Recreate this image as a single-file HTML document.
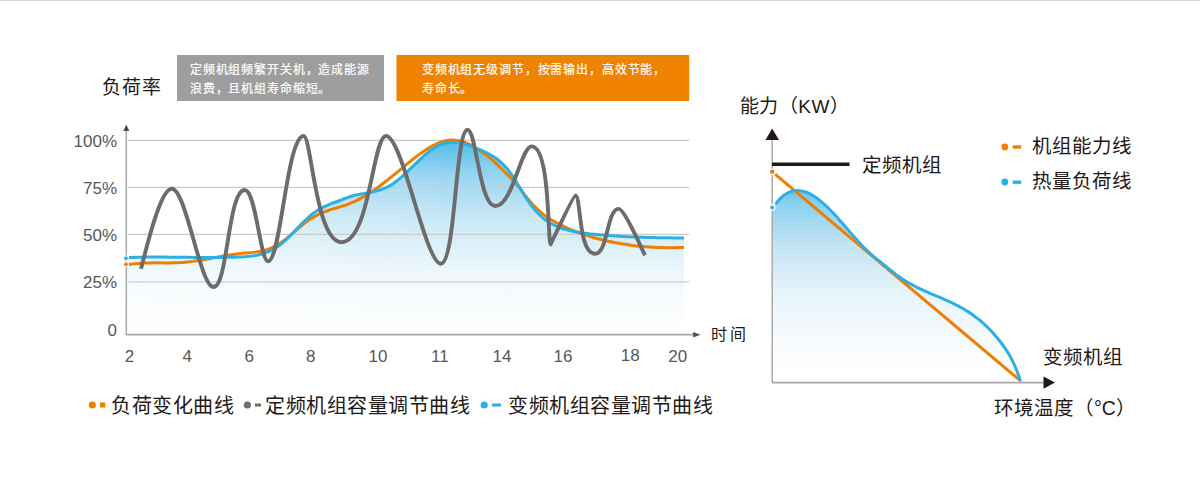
<!DOCTYPE html>
<html lang="zh-CN"><head><meta charset="utf-8">
<style>
html,body{margin:0;padding:0;background:#fff;}
body{width:1200px;height:480px;overflow:hidden;position:relative;font-family:"Liberation Sans",sans-serif;}
svg{position:absolute;left:0;top:0;}
.t{font-family:"Liberation Sans",sans-serif;}
</style></head><body>
<svg width="1200" height="480" viewBox="0 0 1200 480">
<defs>
<linearGradient id="g1" x1="0" y1="140" x2="0" y2="335" gradientUnits="userSpaceOnUse">
<stop offset="0" stop-color="#52bbe9"/>
<stop offset="0.046" stop-color="#62c2ec"/>
<stop offset="0.144" stop-color="#8bd0ef"/>
<stop offset="0.215" stop-color="#a3d8f2"/>
<stop offset="0.395" stop-color="#c8e8f6"/>
<stop offset="0.6" stop-color="#e4f3fa"/>
<stop offset="0.687" stop-color="#eff7fc"/>
<stop offset="0.805" stop-color="#f7fbfd"/>
<stop offset="0.944" stop-color="#fdfefe"/>
<stop offset="1" stop-color="#ffffff"/>
</linearGradient>
<linearGradient id="g1h" x1="126" y1="0" x2="450" y2="0" gradientUnits="userSpaceOnUse">
<stop offset="0" stop-color="#fff" stop-opacity="0.3"/>
<stop offset="1" stop-color="#fff" stop-opacity="0"/>
</linearGradient>
<linearGradient id="g2" x1="0" y1="190" x2="0" y2="382" gradientUnits="userSpaceOnUse">
<stop offset="0" stop-color="#6cc6ea"/>
<stop offset="0.042" stop-color="#7ccdec"/>
<stop offset="0.078" stop-color="#8cd2ef"/>
<stop offset="0.286" stop-color="#c2e4f5"/>
<stop offset="0.547" stop-color="#e8f4fb"/>
<stop offset="0.807" stop-color="#f8fbfd"/>
<stop offset="0.958" stop-color="#ffffff"/>
<stop offset="1" stop-color="#ffffff"/>
</linearGradient>
</defs>
<rect x="0" y="0" width="1200" height="1" fill="#d3d7e0"/>
<!-- left chart -->
<path d="M129.00,257.55 C130.33,257.50 131.67,257.45 133.00,257.41 C134.33,257.36 135.67,257.32 137.00,257.29 C138.33,257.26 139.67,257.23 141.00,257.20 C142.33,257.18 143.67,257.15 145.00,257.14 C146.33,257.12 147.67,257.10 149.00,257.09 C150.33,257.08 151.67,257.08 153.00,257.07 C154.33,257.07 155.67,257.06 157.00,257.06 C158.33,257.07 159.67,257.07 161.00,257.07 C162.33,257.08 163.67,257.09 165.00,257.10 C166.33,257.11 167.67,257.12 169.00,257.13 C170.33,257.14 171.67,257.16 173.00,257.17 C174.33,257.19 175.67,257.20 177.00,257.22 C178.33,257.23 179.67,257.25 181.00,257.27 C182.33,257.28 183.67,257.30 185.00,257.32 C186.33,257.34 187.67,257.35 189.00,257.37 C190.33,257.39 191.67,257.40 193.00,257.42 C194.33,257.43 195.67,257.45 197.00,257.46 C198.33,257.47 199.67,257.48 201.00,257.49 C202.33,257.50 203.67,257.51 205.00,257.52 C206.33,257.52 207.67,257.53 209.00,257.53 C210.33,257.53 211.67,257.53 213.00,257.52 C214.33,257.52 215.67,257.51 217.00,257.50 C218.33,257.49 219.67,257.48 221.00,257.46 C222.33,257.45 223.67,257.43 225.00,257.40 C226.33,257.38 227.67,257.35 229.00,257.31 C230.33,257.28 231.67,257.24 233.00,257.20 C234.33,257.16 235.67,257.11 237.00,257.06 C238.33,257.01 239.67,256.95 241.00,256.89 C242.33,256.82 243.67,256.75 245.00,256.66 C246.33,256.57 247.67,256.47 249.00,256.34 C250.34,256.21 251.67,256.06 253.00,255.88 C254.34,255.69 255.67,255.47 257.00,255.21 C258.34,254.94 259.68,254.64 261.00,254.29 C262.35,253.93 263.69,253.53 265.00,253.07 C266.35,252.60 267.69,252.08 269.00,251.49 C270.36,250.89 271.70,250.23 273.00,249.51 C274.37,248.76 275.71,247.95 277.00,247.08 C278.37,246.15 279.71,245.17 281.00,244.13 C282.37,243.04 283.70,241.87 285.00,240.69 C286.36,239.45 287.69,238.16 289.00,236.87 C290.35,235.53 291.68,234.16 293.00,232.80 C294.34,231.42 295.66,230.01 297.00,228.62 C298.33,227.24 299.65,225.84 301.00,224.47 C302.32,223.13 303.64,221.78 305.00,220.48 C306.31,219.22 307.63,217.97 309.00,216.78 C310.30,215.64 311.63,214.54 313.00,213.50 C314.29,212.52 315.63,211.60 317.00,210.72 C318.30,209.89 319.64,209.11 321.00,208.36 C322.31,207.65 323.65,206.99 325.00,206.35 C326.32,205.73 327.66,205.15 329.00,204.59 C330.32,204.04 331.66,203.52 333.00,203.01 C334.33,202.50 335.67,202.01 337.00,201.52 C338.33,201.02 339.67,200.54 341.00,200.04 C342.34,199.53 343.66,199.00 345.00,198.50 C346.33,198.00 347.65,197.48 349.00,197.03 C350.32,196.58 351.66,196.17 353.00,195.80 C354.32,195.44 355.66,195.13 357.00,194.84 C358.33,194.55 359.66,194.30 361.00,194.05 C362.33,193.80 363.67,193.58 365.00,193.34 C366.33,193.11 367.67,192.88 369.00,192.64 C370.34,192.39 371.67,192.14 373.00,191.85 C374.34,191.56 375.68,191.25 377.00,190.89 C378.34,190.53 379.68,190.13 381.00,189.68 C382.35,189.21 383.69,188.70 385.00,188.12 C386.36,187.52 387.70,186.87 389.00,186.14 C390.37,185.38 391.70,184.54 393.00,183.66 C394.37,182.73 395.70,181.73 397.00,180.71 C398.36,179.64 399.69,178.53 401.00,177.39 C402.36,176.22 403.68,175.02 405.00,173.80 C406.35,172.56 407.67,171.29 409.00,170.02 C410.34,168.74 411.67,167.45 413.00,166.16 C414.33,164.87 415.66,163.57 417.00,162.30 C418.33,161.03 419.65,159.77 421.00,158.53 C422.32,157.32 423.64,156.12 425.00,154.96 C426.31,153.84 427.64,152.73 429.00,151.67 C430.30,150.66 431.63,149.68 433.00,148.76 C434.30,147.90 435.63,147.07 437.00,146.33 C438.29,145.63 439.63,144.99 441.00,144.46 C442.30,143.95 443.65,143.53 445.00,143.20 C446.31,142.88 447.66,142.65 449.00,142.51 C450.32,142.36 451.67,142.30 453.00,142.32 C454.33,142.33 455.67,142.42 457.00,142.57 C458.34,142.72 459.68,142.95 461.00,143.22 C462.34,143.49 463.68,143.83 465.00,144.19 C466.34,144.56 467.68,144.99 469.00,145.44 C470.34,145.89 471.68,146.39 473.00,146.89 C474.34,147.41 475.67,147.95 477.00,148.51 C478.34,149.06 479.67,149.63 481.00,150.21 C482.34,150.80 483.68,151.38 485.00,152.01 C486.35,152.65 487.69,153.30 489.00,154.01 C490.36,154.74 491.70,155.50 493.00,156.32 C494.37,157.19 495.71,158.10 497.00,159.07 C498.38,160.11 499.72,161.21 501.00,162.37 C502.39,163.63 503.73,164.95 505.00,166.33 C506.40,167.85 507.74,169.44 509.00,171.08 C510.40,172.90 511.72,174.79 513.00,176.70 C514.38,178.76 515.69,180.87 517.00,182.98 C518.36,185.16 519.66,187.38 521.00,189.57 C522.33,191.75 523.64,193.95 525.00,196.12 C526.30,198.18 527.61,200.25 529.00,202.26 C530.28,204.10 531.60,205.92 533.00,207.67 C534.27,209.27 535.61,210.81 537.00,212.30 C538.27,213.66 539.61,214.97 541.00,216.22 C542.28,217.37 543.62,218.47 545.00,219.51 C546.29,220.48 547.63,221.39 549.00,222.25 C550.30,223.06 551.64,223.82 553.00,224.52 C554.31,225.20 555.65,225.82 557.00,226.40 C558.31,226.97 559.65,227.48 561.00,227.97 C562.32,228.45 563.66,228.88 565.00,229.29 C566.32,229.69 567.66,230.06 569.00,230.39 C570.33,230.73 571.66,231.03 573.00,231.31 C574.33,231.59 575.66,231.84 577.00,232.08 C578.33,232.31 579.66,232.52 581.00,232.71 C582.33,232.91 583.67,233.08 585.00,233.25 C586.33,233.42 587.67,233.57 589.00,233.72 C590.33,233.87 591.67,234.01 593.00,234.14 C594.33,234.28 595.67,234.41 597.00,234.54 C598.33,234.67 599.67,234.79 601.00,234.91 C602.33,235.02 603.67,235.14 605.00,235.25 C606.33,235.35 607.67,235.46 609.00,235.56 C610.33,235.66 611.67,235.75 613.00,235.84 C614.33,235.93 615.67,236.02 617.00,236.10 C618.33,236.18 619.67,236.26 621.00,236.34 C622.33,236.41 623.67,236.49 625.00,236.55 C626.33,236.62 627.67,236.69 629.00,236.75 C630.33,236.81 631.67,236.87 633.00,236.92 C634.33,236.98 635.67,237.03 637.00,237.08 C638.33,237.13 639.67,237.18 641.00,237.22 C642.33,237.26 643.67,237.31 645.00,237.34 C646.33,237.38 647.67,237.42 649.00,237.45 C650.33,237.49 651.67,237.52 653.00,237.55 C654.33,237.58 655.67,237.61 657.00,237.64 C658.33,237.66 659.67,237.69 661.00,237.71 C662.33,237.74 663.67,237.76 665.00,237.78 C666.33,237.80 667.67,237.82 669.00,237.84 C670.33,237.85 671.67,237.87 673.00,237.89 C674.33,237.90 675.67,237.92 677.00,237.93 C678.33,237.95 679.67,237.96 681.00,237.98 C682.00,237.99 683.00,238.00 684.00,238.01 L684,335 L126,335 L126,257.5 Z" fill="url(#g1)"/>
<path d="M129.00,257.55 C130.33,257.50 131.67,257.45 133.00,257.41 C134.33,257.36 135.67,257.32 137.00,257.29 C138.33,257.26 139.67,257.23 141.00,257.20 C142.33,257.18 143.67,257.15 145.00,257.14 C146.33,257.12 147.67,257.10 149.00,257.09 C150.33,257.08 151.67,257.08 153.00,257.07 C154.33,257.07 155.67,257.06 157.00,257.06 C158.33,257.07 159.67,257.07 161.00,257.07 C162.33,257.08 163.67,257.09 165.00,257.10 C166.33,257.11 167.67,257.12 169.00,257.13 C170.33,257.14 171.67,257.16 173.00,257.17 C174.33,257.19 175.67,257.20 177.00,257.22 C178.33,257.23 179.67,257.25 181.00,257.27 C182.33,257.28 183.67,257.30 185.00,257.32 C186.33,257.34 187.67,257.35 189.00,257.37 C190.33,257.39 191.67,257.40 193.00,257.42 C194.33,257.43 195.67,257.45 197.00,257.46 C198.33,257.47 199.67,257.48 201.00,257.49 C202.33,257.50 203.67,257.51 205.00,257.52 C206.33,257.52 207.67,257.53 209.00,257.53 C210.33,257.53 211.67,257.53 213.00,257.52 C214.33,257.52 215.67,257.51 217.00,257.50 C218.33,257.49 219.67,257.48 221.00,257.46 C222.33,257.45 223.67,257.43 225.00,257.40 C226.33,257.38 227.67,257.35 229.00,257.31 C230.33,257.28 231.67,257.24 233.00,257.20 C234.33,257.16 235.67,257.11 237.00,257.06 C238.33,257.01 239.67,256.95 241.00,256.89 C242.33,256.82 243.67,256.75 245.00,256.66 C246.33,256.57 247.67,256.47 249.00,256.34 C250.34,256.21 251.67,256.06 253.00,255.88 C254.34,255.69 255.67,255.47 257.00,255.21 C258.34,254.94 259.68,254.64 261.00,254.29 C262.35,253.93 263.69,253.53 265.00,253.07 C266.35,252.60 267.69,252.08 269.00,251.49 C270.36,250.89 271.70,250.23 273.00,249.51 C274.37,248.76 275.71,247.95 277.00,247.08 C278.37,246.15 279.71,245.17 281.00,244.13 C282.37,243.04 283.70,241.87 285.00,240.69 C286.36,239.45 287.69,238.16 289.00,236.87 C290.35,235.53 291.68,234.16 293.00,232.80 C294.34,231.42 295.66,230.01 297.00,228.62 C298.33,227.24 299.65,225.84 301.00,224.47 C302.32,223.13 303.64,221.78 305.00,220.48 C306.31,219.22 307.63,217.97 309.00,216.78 C310.30,215.64 311.63,214.54 313.00,213.50 C314.29,212.52 315.63,211.60 317.00,210.72 C318.30,209.89 319.64,209.11 321.00,208.36 C322.31,207.65 323.65,206.99 325.00,206.35 C326.32,205.73 327.66,205.15 329.00,204.59 C330.32,204.04 331.66,203.52 333.00,203.01 C334.33,202.50 335.67,202.01 337.00,201.52 C338.33,201.02 339.67,200.54 341.00,200.04 C342.34,199.53 343.66,199.00 345.00,198.50 C346.33,198.00 347.65,197.48 349.00,197.03 C350.32,196.58 351.66,196.17 353.00,195.80 C354.32,195.44 355.66,195.13 357.00,194.84 C358.33,194.55 359.66,194.30 361.00,194.05 C362.33,193.80 363.67,193.58 365.00,193.34 C366.33,193.11 367.67,192.88 369.00,192.64 C370.34,192.39 371.67,192.14 373.00,191.85 C374.34,191.56 375.68,191.25 377.00,190.89 C378.34,190.53 379.68,190.13 381.00,189.68 C382.35,189.21 383.69,188.70 385.00,188.12 C386.36,187.52 387.70,186.87 389.00,186.14 C390.37,185.38 391.70,184.54 393.00,183.66 C394.37,182.73 395.70,181.73 397.00,180.71 C398.36,179.64 399.69,178.53 401.00,177.39 C402.36,176.22 403.68,175.02 405.00,173.80 C406.35,172.56 407.67,171.29 409.00,170.02 C410.34,168.74 411.67,167.45 413.00,166.16 C414.33,164.87 415.66,163.57 417.00,162.30 C418.33,161.03 419.65,159.77 421.00,158.53 C422.32,157.32 423.64,156.12 425.00,154.96 C426.31,153.84 427.64,152.73 429.00,151.67 C430.30,150.66 431.63,149.68 433.00,148.76 C434.30,147.90 435.63,147.07 437.00,146.33 C438.29,145.63 439.63,144.99 441.00,144.46 C442.30,143.95 443.65,143.53 445.00,143.20 C446.31,142.88 447.66,142.65 449.00,142.51 C450.32,142.36 451.67,142.30 453.00,142.32 C454.33,142.33 455.67,142.42 457.00,142.57 C458.34,142.72 459.68,142.95 461.00,143.22 C462.34,143.49 463.68,143.83 465.00,144.19 C466.34,144.56 467.68,144.99 469.00,145.44 C470.34,145.89 471.68,146.39 473.00,146.89 C474.34,147.41 475.67,147.95 477.00,148.51 C478.34,149.06 479.67,149.63 481.00,150.21 C482.34,150.80 483.68,151.38 485.00,152.01 C486.35,152.65 487.69,153.30 489.00,154.01 C490.36,154.74 491.70,155.50 493.00,156.32 C494.37,157.19 495.71,158.10 497.00,159.07 C498.38,160.11 499.72,161.21 501.00,162.37 C502.39,163.63 503.73,164.95 505.00,166.33 C506.40,167.85 507.74,169.44 509.00,171.08 C510.40,172.90 511.72,174.79 513.00,176.70 C514.38,178.76 515.69,180.87 517.00,182.98 C518.36,185.16 519.66,187.38 521.00,189.57 C522.33,191.75 523.64,193.95 525.00,196.12 C526.30,198.18 527.61,200.25 529.00,202.26 C530.28,204.10 531.60,205.92 533.00,207.67 C534.27,209.27 535.61,210.81 537.00,212.30 C538.27,213.66 539.61,214.97 541.00,216.22 C542.28,217.37 543.62,218.47 545.00,219.51 C546.29,220.48 547.63,221.39 549.00,222.25 C550.30,223.06 551.64,223.82 553.00,224.52 C554.31,225.20 555.65,225.82 557.00,226.40 C558.31,226.97 559.65,227.48 561.00,227.97 C562.32,228.45 563.66,228.88 565.00,229.29 C566.32,229.69 567.66,230.06 569.00,230.39 C570.33,230.73 571.66,231.03 573.00,231.31 C574.33,231.59 575.66,231.84 577.00,232.08 C578.33,232.31 579.66,232.52 581.00,232.71 C582.33,232.91 583.67,233.08 585.00,233.25 C586.33,233.42 587.67,233.57 589.00,233.72 C590.33,233.87 591.67,234.01 593.00,234.14 C594.33,234.28 595.67,234.41 597.00,234.54 C598.33,234.67 599.67,234.79 601.00,234.91 C602.33,235.02 603.67,235.14 605.00,235.25 C606.33,235.35 607.67,235.46 609.00,235.56 C610.33,235.66 611.67,235.75 613.00,235.84 C614.33,235.93 615.67,236.02 617.00,236.10 C618.33,236.18 619.67,236.26 621.00,236.34 C622.33,236.41 623.67,236.49 625.00,236.55 C626.33,236.62 627.67,236.69 629.00,236.75 C630.33,236.81 631.67,236.87 633.00,236.92 C634.33,236.98 635.67,237.03 637.00,237.08 C638.33,237.13 639.67,237.18 641.00,237.22 C642.33,237.26 643.67,237.31 645.00,237.34 C646.33,237.38 647.67,237.42 649.00,237.45 C650.33,237.49 651.67,237.52 653.00,237.55 C654.33,237.58 655.67,237.61 657.00,237.64 C658.33,237.66 659.67,237.69 661.00,237.71 C662.33,237.74 663.67,237.76 665.00,237.78 C666.33,237.80 667.67,237.82 669.00,237.84 C670.33,237.85 671.67,237.87 673.00,237.89 C674.33,237.90 675.67,237.92 677.00,237.93 C678.33,237.95 679.67,237.96 681.00,237.98 C682.00,237.99 683.00,238.00 684.00,238.01 L684,335 L126,335 L126,257.5 Z" fill="url(#g1h)"/>
<g stroke="#cbcbcb" stroke-width="1.2">
<line x1="128" y1="140.4" x2="689" y2="140.4"/>
<line x1="128" y1="187.3" x2="689" y2="187.3"/>
<line x1="128" y1="234.4" x2="689" y2="234.4"/>
<line x1="128" y1="281.9" x2="689" y2="281.9"/>
</g>
<line x1="126.3" y1="130" x2="126.3" y2="335" stroke="#a9a9a9" stroke-width="1.5"/>
<polygon points="126.3,124.5 123.3,131 129.3,131" fill="#4d4d4d"/>
<line x1="126" y1="334.7" x2="695" y2="334.7" stroke="#a9a9a9" stroke-width="1.8"/>
<polygon points="700.5,334.75 693.2,331.9 693.2,337.6" fill="#505050"/>
<path d="M129.00,264.41 C130.33,264.23 131.66,264.03 133.00,263.88 C134.33,263.72 135.67,263.59 137.00,263.48 C138.33,263.37 139.67,263.28 141.00,263.20 C142.33,263.12 143.67,263.06 145.00,263.02 C146.33,262.97 147.67,262.94 149.00,262.91 C150.33,262.89 151.67,262.88 153.00,262.87 C154.33,262.86 155.67,262.86 157.00,262.86 C158.33,262.86 159.67,262.87 161.00,262.87 C162.33,262.88 163.67,262.89 165.00,262.89 C166.33,262.89 167.67,262.89 169.00,262.88 C170.33,262.87 171.67,262.86 173.00,262.83 C174.33,262.81 175.67,262.77 177.00,262.73 C178.33,262.68 179.67,262.62 181.00,262.54 C182.33,262.46 183.67,262.37 185.00,262.26 C186.33,262.15 187.67,262.01 189.00,261.86 C190.34,261.72 191.67,261.55 193.00,261.37 C194.34,261.19 195.67,260.99 197.00,260.79 C198.34,260.58 199.67,260.36 201.00,260.14 C202.33,259.91 203.67,259.67 205.00,259.43 C206.33,259.19 207.67,258.94 209.00,258.69 C210.33,258.44 211.67,258.19 213.00,257.93 C214.33,257.68 215.67,257.42 217.00,257.17 C218.33,256.92 219.67,256.67 221.00,256.42 C222.33,256.18 223.67,255.94 225.00,255.70 C226.33,255.47 227.67,255.25 229.00,255.03 C230.33,254.82 231.66,254.61 233.00,254.42 C234.33,254.23 235.66,254.05 237.00,253.89 C238.33,253.73 239.67,253.58 241.00,253.45 C242.33,253.32 243.67,253.21 245.00,253.10 C246.33,252.98 247.67,252.88 249.00,252.76 C250.33,252.64 251.67,252.52 253.00,252.37 C254.34,252.22 255.67,252.06 257.00,251.86 C258.34,251.66 259.68,251.44 261.00,251.16 C262.34,250.88 263.68,250.56 265.00,250.19 C266.35,249.81 267.69,249.38 269.00,248.89 C270.36,248.38 271.69,247.81 273.00,247.18 C274.36,246.53 275.70,245.81 277.00,245.05 C278.36,244.26 279.70,243.40 281.00,242.51 C282.36,241.58 283.69,240.59 285.00,239.59 C286.36,238.55 287.68,237.48 289.00,236.39 C290.35,235.28 291.67,234.15 293.00,233.02 C294.34,231.88 295.66,230.72 297.00,229.58 C298.33,228.44 299.65,227.30 301.00,226.18 C302.32,225.08 303.65,223.99 305.00,222.93 C306.31,221.91 307.64,220.90 309.00,219.94 C310.31,219.02 311.64,218.13 313.00,217.30 C314.30,216.51 315.64,215.78 317.00,215.08 C318.31,214.41 319.65,213.79 321.00,213.21 C322.32,212.64 323.66,212.12 325.00,211.62 C326.32,211.12 327.66,210.67 329.00,210.23 C330.33,209.79 331.66,209.39 333.00,208.98 C334.33,208.57 335.67,208.19 337.00,207.79 C338.33,207.39 339.67,207.00 341.00,206.58 C342.34,206.17 343.67,205.75 345.00,205.30 C346.34,204.84 347.68,204.37 349.00,203.86 C350.35,203.33 351.68,202.78 353.00,202.19 C354.35,201.59 355.68,200.96 357.00,200.30 C358.35,199.62 359.68,198.91 361.00,198.18 C362.35,197.44 363.68,196.67 365.00,195.87 C366.35,195.06 367.68,194.23 369.00,193.38 C370.35,192.52 371.68,191.63 373.00,190.73 C374.34,189.81 375.68,188.87 377.00,187.93 C378.34,186.96 379.68,185.99 381.00,185.00 C382.34,184.00 383.67,182.98 385.00,181.96 C386.34,180.93 387.67,179.88 389.00,178.83 C390.34,177.77 391.67,176.70 393.00,175.62 C394.34,174.54 395.67,173.45 397.00,172.36 C398.34,171.26 399.67,170.16 401.00,169.05 C402.33,167.95 403.66,166.84 405.00,165.74 C406.33,164.64 407.66,163.53 409.00,162.44 C410.33,161.36 411.66,160.28 413.00,159.22 C414.32,158.17 415.65,157.13 417.00,156.11 C418.32,155.11 419.65,154.11 421.00,153.15 C422.32,152.21 423.65,151.28 425.00,150.39 C426.32,149.52 427.65,148.67 429.00,147.86 C430.31,147.08 431.64,146.33 433.00,145.62 C434.31,144.94 435.64,144.29 437.00,143.70 C438.31,143.13 439.65,142.61 441.00,142.15 C442.31,141.71 443.65,141.31 445.00,141.00 C446.32,140.70 447.66,140.46 449.00,140.31 C450.32,140.16 451.67,140.09 453.00,140.11 C454.33,140.12 455.68,140.22 457.00,140.40 C458.34,140.58 459.69,140.84 461.00,141.17 C462.35,141.51 463.69,141.93 465.00,142.41 C466.36,142.90 467.69,143.48 469.00,144.10 C470.36,144.75 471.69,145.47 473.00,146.22 C474.36,147.00 475.68,147.84 477.00,148.67 C478.35,149.53 479.68,150.41 481.00,151.31 C482.34,152.21 483.69,153.12 485.00,154.07 C486.35,155.06 487.70,156.06 489.00,157.11 C490.37,158.22 491.69,159.38 493.00,160.56 C494.36,161.79 495.68,163.07 497.00,164.35 C498.35,165.65 499.67,166.99 501.00,168.30 C502.33,169.61 503.66,170.93 505.00,172.24 C506.33,173.53 507.69,174.78 509.00,176.08 C510.35,177.43 511.72,178.76 513.00,180.17 C514.38,181.69 515.70,183.26 517.00,184.85 C518.37,186.53 519.68,188.26 521.00,189.97 C522.34,191.71 523.65,193.48 525.00,195.22 C526.32,196.92 527.63,198.63 529.00,200.28 C530.29,201.84 531.62,203.38 533.00,204.86 C534.29,206.25 535.63,207.59 537.00,208.90 C538.29,210.12 539.63,211.31 541.00,212.45 C542.30,213.53 543.64,214.57 545.00,215.58 C546.30,216.54 547.64,217.46 549.00,218.34 C550.31,219.20 551.65,220.02 553.00,220.81 C554.32,221.58 555.65,222.32 557.00,223.04 C558.32,223.74 559.66,224.42 561.00,225.08 C562.32,225.74 563.66,226.37 565.00,226.99 C566.33,227.61 567.66,228.20 569.00,228.78 C570.33,229.35 571.66,229.91 573.00,230.45 C574.33,230.98 575.66,231.50 577.00,232.01 C578.33,232.51 579.66,232.99 581.00,233.47 C582.33,233.93 583.66,234.39 585.00,234.83 C586.33,235.27 587.66,235.69 589.00,236.11 C590.33,236.52 591.66,236.92 593.00,237.31 C594.33,237.69 595.66,238.07 597.00,238.43 C598.33,238.80 599.66,239.15 601.00,239.48 C602.33,239.82 603.66,240.15 605.00,240.46 C606.33,240.78 607.66,241.08 609.00,241.37 C610.33,241.66 611.66,241.94 613.00,242.21 C614.33,242.48 615.66,242.74 617.00,242.99 C618.33,243.23 619.66,243.47 621.00,243.70 C622.33,243.92 623.67,244.14 625.00,244.34 C626.33,244.54 627.67,244.74 629.00,244.92 C630.33,245.11 631.67,245.28 633.00,245.44 C634.33,245.61 635.67,245.76 637.00,245.91 C638.33,246.05 639.67,246.19 641.00,246.31 C642.33,246.44 643.67,246.55 645.00,246.66 C646.33,246.77 647.67,246.87 649.00,246.96 C650.33,247.04 651.67,247.13 653.00,247.20 C654.33,247.27 655.67,247.33 657.00,247.39 C658.33,247.44 659.67,247.49 661.00,247.53 C662.33,247.57 663.67,247.60 665.00,247.63 C666.33,247.65 667.67,247.67 669.00,247.67 C670.33,247.68 671.67,247.68 673.00,247.68 C674.33,247.67 675.67,247.66 677.00,247.64 C678.33,247.62 679.67,247.59 681.00,247.56 C682.00,247.53 683.00,247.50 684.00,247.47" fill="none" stroke="#ef7f00" stroke-width="3"/>
<path d="M129.00,257.55 C130.33,257.50 131.67,257.45 133.00,257.41 C134.33,257.36 135.67,257.32 137.00,257.29 C138.33,257.26 139.67,257.23 141.00,257.20 C142.33,257.18 143.67,257.15 145.00,257.14 C146.33,257.12 147.67,257.10 149.00,257.09 C150.33,257.08 151.67,257.08 153.00,257.07 C154.33,257.07 155.67,257.06 157.00,257.06 C158.33,257.07 159.67,257.07 161.00,257.07 C162.33,257.08 163.67,257.09 165.00,257.10 C166.33,257.11 167.67,257.12 169.00,257.13 C170.33,257.14 171.67,257.16 173.00,257.17 C174.33,257.19 175.67,257.20 177.00,257.22 C178.33,257.23 179.67,257.25 181.00,257.27 C182.33,257.28 183.67,257.30 185.00,257.32 C186.33,257.34 187.67,257.35 189.00,257.37 C190.33,257.39 191.67,257.40 193.00,257.42 C194.33,257.43 195.67,257.45 197.00,257.46 C198.33,257.47 199.67,257.48 201.00,257.49 C202.33,257.50 203.67,257.51 205.00,257.52 C206.33,257.52 207.67,257.53 209.00,257.53 C210.33,257.53 211.67,257.53 213.00,257.52 C214.33,257.52 215.67,257.51 217.00,257.50 C218.33,257.49 219.67,257.48 221.00,257.46 C222.33,257.45 223.67,257.43 225.00,257.40 C226.33,257.38 227.67,257.35 229.00,257.31 C230.33,257.28 231.67,257.24 233.00,257.20 C234.33,257.16 235.67,257.11 237.00,257.06 C238.33,257.01 239.67,256.95 241.00,256.89 C242.33,256.82 243.67,256.75 245.00,256.66 C246.33,256.57 247.67,256.47 249.00,256.34 C250.34,256.21 251.67,256.06 253.00,255.88 C254.34,255.69 255.67,255.47 257.00,255.21 C258.34,254.94 259.68,254.64 261.00,254.29 C262.35,253.93 263.69,253.53 265.00,253.07 C266.35,252.60 267.69,252.08 269.00,251.49 C270.36,250.89 271.70,250.23 273.00,249.51 C274.37,248.76 275.71,247.95 277.00,247.08 C278.37,246.15 279.71,245.17 281.00,244.13 C282.37,243.04 283.70,241.87 285.00,240.69 C286.36,239.45 287.69,238.16 289.00,236.87 C290.35,235.53 291.68,234.16 293.00,232.80 C294.34,231.42 295.66,230.01 297.00,228.62 C298.33,227.24 299.65,225.84 301.00,224.47 C302.32,223.13 303.64,221.78 305.00,220.48 C306.31,219.22 307.63,217.97 309.00,216.78 C310.30,215.64 311.63,214.54 313.00,213.50 C314.29,212.52 315.63,211.60 317.00,210.72 C318.30,209.89 319.64,209.11 321.00,208.36 C322.31,207.65 323.65,206.99 325.00,206.35 C326.32,205.73 327.66,205.15 329.00,204.59 C330.32,204.04 331.66,203.52 333.00,203.01 C334.33,202.50 335.67,202.01 337.00,201.52 C338.33,201.02 339.67,200.54 341.00,200.04 C342.34,199.53 343.66,199.00 345.00,198.50 C346.33,198.00 347.65,197.48 349.00,197.03 C350.32,196.58 351.66,196.17 353.00,195.80 C354.32,195.44 355.66,195.13 357.00,194.84 C358.33,194.55 359.66,194.30 361.00,194.05 C362.33,193.80 363.67,193.58 365.00,193.34 C366.33,193.11 367.67,192.88 369.00,192.64 C370.34,192.39 371.67,192.14 373.00,191.85 C374.34,191.56 375.68,191.25 377.00,190.89 C378.34,190.53 379.68,190.13 381.00,189.68 C382.35,189.21 383.69,188.70 385.00,188.12 C386.36,187.52 387.70,186.87 389.00,186.14 C390.37,185.38 391.70,184.54 393.00,183.66 C394.37,182.73 395.70,181.73 397.00,180.71 C398.36,179.64 399.69,178.53 401.00,177.39 C402.36,176.22 403.68,175.02 405.00,173.80 C406.35,172.56 407.67,171.29 409.00,170.02 C410.34,168.74 411.67,167.45 413.00,166.16 C414.33,164.87 415.66,163.57 417.00,162.30 C418.33,161.03 419.65,159.77 421.00,158.53 C422.32,157.32 423.64,156.12 425.00,154.96 C426.31,153.84 427.64,152.73 429.00,151.67 C430.30,150.66 431.63,149.68 433.00,148.76 C434.30,147.90 435.63,147.07 437.00,146.33 C438.29,145.63 439.63,144.99 441.00,144.46 C442.30,143.95 443.65,143.53 445.00,143.20 C446.31,142.88 447.66,142.65 449.00,142.51 C450.32,142.36 451.67,142.30 453.00,142.32 C454.33,142.33 455.67,142.42 457.00,142.57 C458.34,142.72 459.68,142.95 461.00,143.22 C462.34,143.49 463.68,143.83 465.00,144.19 C466.34,144.56 467.68,144.99 469.00,145.44 C470.34,145.89 471.68,146.39 473.00,146.89 C474.34,147.41 475.67,147.95 477.00,148.51 C478.34,149.06 479.67,149.63 481.00,150.21 C482.34,150.80 483.68,151.38 485.00,152.01 C486.35,152.65 487.69,153.30 489.00,154.01 C490.36,154.74 491.70,155.50 493.00,156.32 C494.37,157.19 495.71,158.10 497.00,159.07 C498.38,160.11 499.72,161.21 501.00,162.37 C502.39,163.63 503.73,164.95 505.00,166.33 C506.40,167.85 507.74,169.44 509.00,171.08 C510.40,172.90 511.72,174.79 513.00,176.70 C514.38,178.76 515.69,180.87 517.00,182.98 C518.36,185.16 519.66,187.38 521.00,189.57 C522.33,191.75 523.64,193.95 525.00,196.12 C526.30,198.18 527.61,200.25 529.00,202.26 C530.28,204.10 531.60,205.92 533.00,207.67 C534.27,209.27 535.61,210.81 537.00,212.30 C538.27,213.66 539.61,214.97 541.00,216.22 C542.28,217.37 543.62,218.47 545.00,219.51 C546.29,220.48 547.63,221.39 549.00,222.25 C550.30,223.06 551.64,223.82 553.00,224.52 C554.31,225.20 555.65,225.82 557.00,226.40 C558.31,226.97 559.65,227.48 561.00,227.97 C562.32,228.45 563.66,228.88 565.00,229.29 C566.32,229.69 567.66,230.06 569.00,230.39 C570.33,230.73 571.66,231.03 573.00,231.31 C574.33,231.59 575.66,231.84 577.00,232.08 C578.33,232.31 579.66,232.52 581.00,232.71 C582.33,232.91 583.67,233.08 585.00,233.25 C586.33,233.42 587.67,233.57 589.00,233.72 C590.33,233.87 591.67,234.01 593.00,234.14 C594.33,234.28 595.67,234.41 597.00,234.54 C598.33,234.67 599.67,234.79 601.00,234.91 C602.33,235.02 603.67,235.14 605.00,235.25 C606.33,235.35 607.67,235.46 609.00,235.56 C610.33,235.66 611.67,235.75 613.00,235.84 C614.33,235.93 615.67,236.02 617.00,236.10 C618.33,236.18 619.67,236.26 621.00,236.34 C622.33,236.41 623.67,236.49 625.00,236.55 C626.33,236.62 627.67,236.69 629.00,236.75 C630.33,236.81 631.67,236.87 633.00,236.92 C634.33,236.98 635.67,237.03 637.00,237.08 C638.33,237.13 639.67,237.18 641.00,237.22 C642.33,237.26 643.67,237.31 645.00,237.34 C646.33,237.38 647.67,237.42 649.00,237.45 C650.33,237.49 651.67,237.52 653.00,237.55 C654.33,237.58 655.67,237.61 657.00,237.64 C658.33,237.66 659.67,237.69 661.00,237.71 C662.33,237.74 663.67,237.76 665.00,237.78 C666.33,237.80 667.67,237.82 669.00,237.84 C670.33,237.85 671.67,237.87 673.00,237.89 C674.33,237.90 675.67,237.92 677.00,237.93 C678.33,237.95 679.67,237.96 681.00,237.98 C682.00,237.99 683.00,238.00 684.00,238.01" fill="none" stroke="#2cb0e3" stroke-width="3"/>
<circle cx="126" cy="264.4" r="2.4" fill="#ef7f00" stroke="#fff" stroke-width="1"/>
<circle cx="126" cy="258.3" r="2.4" fill="#2cb0e3" stroke="#fff" stroke-width="1"/>
<path d="M141,268.75 C145,254.6 159.5,188.8 171.9,188.8 C186.04,188.80 200.19,287.00 213.50,287.00 C227.88,287.00 227.88,190.00 244.75,190.00 C255.96,190.00 260.16,261.30 268.10,261.30 C280.93,261.30 286.64,136.00 303.75,136.00 C311.28,136.00 315.80,242.20 341.40,242.20 C369.94,242.20 372.62,136.00 386.00,136.00 C402.44,136.00 425.46,263.70 440.80,263.70 C455.75,263.70 455.22,129.70 467.50,129.70 C476.43,129.70 479.22,206.00 495.40,206.00 C512.78,206.00 520.74,146.40 531.60,146.40 C550.60,146.40 547.56,244.30 550.60,244.30 C550.60,244.30 573.82,195.50 575.30,195.50 C581.21,195.50 578.06,253.70 595.00,253.70 C608.30,253.70 606.40,208.90 618.75,208.90 C624,208.9 640,245 645,255.3" fill="none" stroke="#6c6c6c" stroke-width="3.9" stroke-linecap="butt"/>
<g class="t" font-size="17" fill="#595757" text-anchor="end">
<text x="117" y="147">100%</text>
<text x="117" y="194">75%</text>
<text x="117" y="241">50%</text>
<text x="117" y="288">25%</text>
<text x="117" y="336">0</text>
</g>
<g class="t" font-size="17" fill="#595757" text-anchor="middle">
<text x="129.5" y="362">2</text>
<text x="187.3" y="362">4</text>
<text x="249.2" y="362">6</text>
<text x="310.8" y="362">8</text>
<text x="378" y="362">10</text>
<text x="439.8" y="362">11</text>
<text x="502" y="362">14</text>
<text x="563" y="362">16</text>
<text x="630.2" y="361">18</text>
<text x="677.8" y="362">20</text>
</g>
<text class="t" x="711.2" y="339.5" font-size="16" letter-spacing="2.5" fill="#231815">时间</text>
<text class="t" x="101.8" y="94" font-size="19" letter-spacing="1.3" fill="#231815">负荷率</text>
<rect x="177" y="55" width="207" height="46" fill="#9e9e9e"/>
<rect x="396.5" y="55" width="292.7" height="46" fill="#ef8200"/>
<g class="t" font-size="12" fill="#fff" font-weight="500" stroke="#fff" stroke-width="0.2" letter-spacing="0.86">
<text x="189.8" y="74">定频机组频繁开关机，造成能源</text>
<text x="189.8" y="92.7">浪费，且机组寿命缩短。</text>
<text x="421.8" y="74">变频机组无级调节，按需输出，高效节能，</text>
<text x="421.8" y="92.7">寿命长。</text>
</g>
<!-- legend -->
<g class="t" font-size="20" letter-spacing="0.5" fill="#231815">
<circle cx="92.3" cy="405" r="3.6" fill="#ef7f00"/>
<rect x="100" y="402.5" width="5.3" height="5" fill="#ef7f00"/>
<text x="111.3" y="413">负荷变化曲线</text>
<circle cx="247.4" cy="405" r="3.6" fill="#6e6e6e"/>
<rect x="255" y="403.5" width="6" height="3" fill="#6e6e6e"/>
<text x="265" y="413">定频机组容量调节曲线</text>
<circle cx="484.2" cy="405" r="3.6" fill="#2cb0e3"/>
<rect x="492" y="403.5" width="9" height="3" fill="#2cb0e3"/>
<text x="508" y="413">变频机组容量调节曲线</text>
</g>
<!-- right chart -->
<path d="M772.2,207.5 L775.5,204.5 C776.50,202.88 777.45,201.60 778.50,200.41 C779.45,199.35 780.45,198.32 781.50,197.35 C782.45,196.48 783.45,195.65 784.50,194.90 C785.45,194.21 786.46,193.58 787.50,193.03 C788.46,192.51 789.47,192.06 790.50,191.69 C791.47,191.35 792.49,191.07 793.50,190.87 C794.49,190.68 795.50,190.57 796.50,190.53 C797.50,190.49 798.51,190.52 799.50,190.62 C800.51,190.73 801.51,190.90 802.50,191.13 C803.51,191.36 804.52,191.67 805.50,192.01 C806.52,192.37 807.52,192.78 808.50,193.23 C809.52,193.70 810.52,194.22 811.50,194.77 C812.52,195.34 813.52,195.96 814.50,196.60 C815.52,197.27 816.52,197.97 817.50,198.70 C818.52,199.45 819.52,200.24 820.50,201.04 C821.52,201.87 822.52,202.73 823.50,203.60 C824.52,204.51 825.51,205.43 826.50,206.37 C827.51,207.33 828.51,208.32 829.50,209.31 C830.51,210.32 831.51,211.36 832.50,212.40 C833.51,213.46 834.51,214.53 835.50,215.61 C836.51,216.71 837.51,217.82 838.50,218.93 C839.51,220.05 840.50,221.19 841.50,222.32 C842.50,223.46 843.50,224.61 844.50,225.76 C845.50,226.91 846.50,228.07 847.50,229.22 C848.50,230.38 849.50,231.53 850.50,232.68 C851.50,233.83 852.50,234.98 853.50,236.12 C854.50,237.25 855.49,238.37 856.50,239.49 C857.49,240.60 858.49,241.70 859.50,242.79 C860.49,243.86 861.49,244.93 862.50,245.98 C863.49,247.01 864.49,248.04 865.50,249.04 C866.49,250.02 867.48,251.00 868.50,251.95 C869.48,252.87 870.49,253.78 871.50,254.67 C872.49,255.54 873.49,256.39 874.50,257.23 C875.49,258.05 876.50,258.86 877.50,259.67 C878.50,260.47 879.50,261.26 880.50,262.05 C881.50,262.84 882.50,263.63 883.50,264.43 C884.50,265.23 885.50,266.04 886.50,266.86 C887.50,267.68 888.50,268.51 889.50,269.33 C890.50,270.14 891.49,270.96 892.50,271.77 C893.49,272.56 894.49,273.35 895.50,274.12 C896.49,274.88 897.49,275.61 898.50,276.34 C899.49,277.04 900.49,277.73 901.50,278.41 C902.49,279.07 903.49,279.72 904.50,280.35 C905.49,280.97 906.49,281.58 907.50,282.18 C908.49,282.76 909.49,283.34 910.50,283.90 C911.49,284.45 912.49,284.99 913.50,285.52 C914.49,286.05 915.50,286.56 916.50,287.06 C917.50,287.56 918.50,288.05 919.50,288.53 C920.50,289.01 921.50,289.48 922.50,289.94 C923.50,290.40 924.50,290.85 925.50,291.30 C926.50,291.75 927.50,292.18 928.50,292.62 C929.50,293.05 930.50,293.48 931.50,293.91 C932.50,294.34 933.50,294.76 934.50,295.19 C935.50,295.61 936.50,296.04 937.50,296.46 C938.50,296.88 939.50,297.31 940.50,297.74 C941.50,298.17 942.50,298.60 943.50,299.03 C944.50,299.47 945.50,299.91 946.50,300.36 C947.50,300.80 948.50,301.26 949.50,301.72 C950.50,302.18 951.50,302.65 952.50,303.13 C953.50,303.62 954.50,304.11 955.50,304.61 C956.50,305.12 957.51,305.64 958.50,306.16 C959.51,306.70 960.51,307.24 961.50,307.80 C962.51,308.36 963.51,308.94 964.50,309.53 C965.51,310.13 966.51,310.74 967.50,311.37 C968.51,312.01 969.51,312.66 970.50,313.33 C971.51,314.01 972.51,314.71 973.50,315.42 C974.51,316.15 975.51,316.89 976.50,317.65 C977.51,318.43 978.51,319.22 979.50,320.03 C980.51,320.87 981.51,321.72 982.50,322.58 C983.51,323.48 984.52,324.39 985.50,325.31 C986.52,326.27 987.52,327.24 988.50,328.23 C989.52,329.25 990.52,330.29 991.50,331.34 C992.52,332.44 993.52,333.55 994.50,334.67 C995.52,335.84 996.52,337.03 997.50,338.23 C998.52,339.47 999.52,340.74 1000.50,342.02 C1001.52,343.35 1002.53,344.69 1003.50,346.05 C1004.53,347.49 1005.54,348.94 1006.50,350.42 C1007.54,352.03 1008.55,353.66 1009.50,355.32 C1010.55,357.17 1011.56,359.04 1012.50,360.95 C1013.56,363.11 1014.57,365.30 1015.50,367.51 C1016.57,370.05 1017.55,372.63 1018.50,375.22 C1019.21,377.16 1019.83,379.13 1020.50,381.09 L772.2,382.5 Z" fill="url(#g2)"/>
<line x1="772.2" y1="139" x2="772.2" y2="383" stroke="#a9a9a9" stroke-width="1.5"/>
<polygon points="772.2,128.6 765.5,140 779,140" fill="#231815"/>
<line x1="772" y1="382.6" x2="1044" y2="382.6" stroke="#a9a9a9" stroke-width="1.8"/>
<polygon points="1055,382.6 1043.5,376.5 1043.5,388.7" fill="#231815"/>
<line x1="772" y1="164.3" x2="849.5" y2="164.3" stroke="#231815" stroke-width="3.5"/>
<line x1="775" y1="174.2" x2="1021" y2="381.2" stroke="#ef7f00" stroke-width="3"/>
<path d="M775.50,204.12 C776.50,202.88 777.45,201.60 778.50,200.41 C779.45,199.35 780.45,198.32 781.50,197.35 C782.45,196.48 783.45,195.65 784.50,194.90 C785.45,194.21 786.46,193.58 787.50,193.03 C788.46,192.51 789.47,192.06 790.50,191.69 C791.47,191.35 792.49,191.07 793.50,190.87 C794.49,190.68 795.50,190.57 796.50,190.53 C797.50,190.49 798.51,190.52 799.50,190.62 C800.51,190.73 801.51,190.90 802.50,191.13 C803.51,191.36 804.52,191.67 805.50,192.01 C806.52,192.37 807.52,192.78 808.50,193.23 C809.52,193.70 810.52,194.22 811.50,194.77 C812.52,195.34 813.52,195.96 814.50,196.60 C815.52,197.27 816.52,197.97 817.50,198.70 C818.52,199.45 819.52,200.24 820.50,201.04 C821.52,201.87 822.52,202.73 823.50,203.60 C824.52,204.51 825.51,205.43 826.50,206.37 C827.51,207.33 828.51,208.32 829.50,209.31 C830.51,210.32 831.51,211.36 832.50,212.40 C833.51,213.46 834.51,214.53 835.50,215.61 C836.51,216.71 837.51,217.82 838.50,218.93 C839.51,220.05 840.50,221.19 841.50,222.32 C842.50,223.46 843.50,224.61 844.50,225.76 C845.50,226.91 846.50,228.07 847.50,229.22 C848.50,230.38 849.50,231.53 850.50,232.68 C851.50,233.83 852.50,234.98 853.50,236.12 C854.50,237.25 855.49,238.37 856.50,239.49 C857.49,240.60 858.49,241.70 859.50,242.79 C860.49,243.86 861.49,244.93 862.50,245.98 C863.49,247.01 864.49,248.04 865.50,249.04 C866.49,250.02 867.48,251.00 868.50,251.95 C869.48,252.87 870.49,253.78 871.50,254.67 C872.49,255.54 873.49,256.39 874.50,257.23 C875.49,258.05 876.50,258.86 877.50,259.67 C878.50,260.47 879.50,261.26 880.50,262.05 C881.50,262.84 882.50,263.63 883.50,264.43 C884.50,265.23 885.50,266.04 886.50,266.86 C887.50,267.68 888.50,268.51 889.50,269.33 C890.50,270.14 891.49,270.96 892.50,271.77 C893.49,272.56 894.49,273.35 895.50,274.12 C896.49,274.88 897.49,275.61 898.50,276.34 C899.49,277.04 900.49,277.73 901.50,278.41 C902.49,279.07 903.49,279.72 904.50,280.35 C905.49,280.97 906.49,281.58 907.50,282.18 C908.49,282.76 909.49,283.34 910.50,283.90 C911.49,284.45 912.49,284.99 913.50,285.52 C914.49,286.05 915.50,286.56 916.50,287.06 C917.50,287.56 918.50,288.05 919.50,288.53 C920.50,289.01 921.50,289.48 922.50,289.94 C923.50,290.40 924.50,290.85 925.50,291.30 C926.50,291.75 927.50,292.18 928.50,292.62 C929.50,293.05 930.50,293.48 931.50,293.91 C932.50,294.34 933.50,294.76 934.50,295.19 C935.50,295.61 936.50,296.04 937.50,296.46 C938.50,296.88 939.50,297.31 940.50,297.74 C941.50,298.17 942.50,298.60 943.50,299.03 C944.50,299.47 945.50,299.91 946.50,300.36 C947.50,300.80 948.50,301.26 949.50,301.72 C950.50,302.18 951.50,302.65 952.50,303.13 C953.50,303.62 954.50,304.11 955.50,304.61 C956.50,305.12 957.51,305.64 958.50,306.16 C959.51,306.70 960.51,307.24 961.50,307.80 C962.51,308.36 963.51,308.94 964.50,309.53 C965.51,310.13 966.51,310.74 967.50,311.37 C968.51,312.01 969.51,312.66 970.50,313.33 C971.51,314.01 972.51,314.71 973.50,315.42 C974.51,316.15 975.51,316.89 976.50,317.65 C977.51,318.43 978.51,319.22 979.50,320.03 C980.51,320.87 981.51,321.72 982.50,322.58 C983.51,323.48 984.52,324.39 985.50,325.31 C986.52,326.27 987.52,327.24 988.50,328.23 C989.52,329.25 990.52,330.29 991.50,331.34 C992.52,332.44 993.52,333.55 994.50,334.67 C995.52,335.84 996.52,337.03 997.50,338.23 C998.52,339.47 999.52,340.74 1000.50,342.02 C1001.52,343.35 1002.53,344.69 1003.50,346.05 C1004.53,347.49 1005.54,348.94 1006.50,350.42 C1007.54,352.03 1008.55,353.66 1009.50,355.32 C1010.55,357.17 1011.56,359.04 1012.50,360.95 C1013.56,363.11 1014.57,365.30 1015.50,367.51 C1016.57,370.05 1017.55,372.63 1018.50,375.22 C1019.21,377.16 1019.83,379.13 1020.50,381.09" fill="none" stroke="#2cb0e3" stroke-width="3"/>

<circle cx="772.2" cy="171.7" r="2.9" fill="#ef7f00" stroke="#fff" stroke-width="1.3"/>
<circle cx="772.2" cy="207.6" r="2.65" fill="#2cb0e3" stroke="#fff" stroke-width="1.3"/>
<g class="t" font-size="19.5" fill="#231815">
<text x="739.5" y="112.5" font-size="19" letter-spacing="0.6">能力（KW）</text>
<text x="862" y="172">定频机组</text>
<text x="1043" y="364">变频机组</text>
<text x="994" y="414.5">环境温度（°C）</text>
<text x="1031.5" y="152.5">机组能力线</text>
<text x="1031.5" y="188">热量负荷线</text>
</g>
<circle cx="1004.8" cy="147" r="3.4" fill="#ef7f00"/>
<rect x="1012.7" y="145.3" width="8.5" height="3.4" fill="#ef7f00"/>
<circle cx="1004.8" cy="182" r="3.4" fill="#2cb0e3"/>
<rect x="1012.7" y="180.5" width="8.5" height="3.4" fill="#2cb0e3"/>
</svg>
</body></html>
